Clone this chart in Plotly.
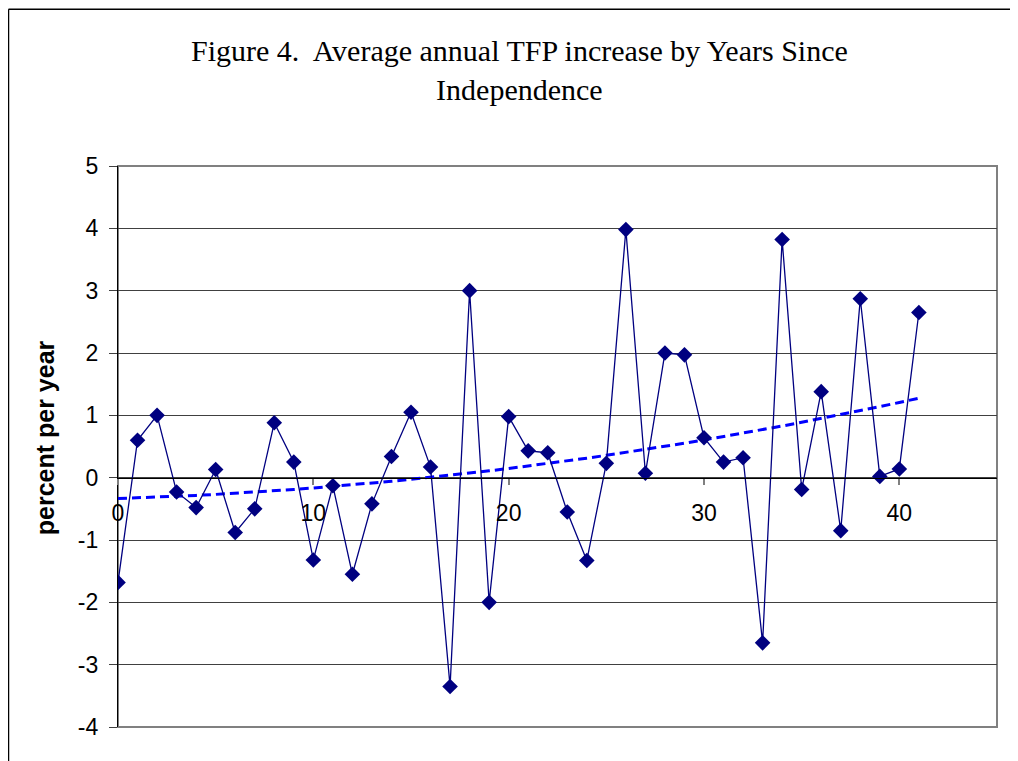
import numpy as np
import plotly.graph_objects as go

years = list(range(42))
tfp = [-1.68, 0.60, 1.00, -0.23, -0.48, 0.13, -0.88, -0.50, 0.88, 0.25,
       -1.32, -0.13, -1.55, -0.42, 0.34, 1.05, 0.17, -3.35, 3.00, -2.00,
       0.98, 0.43, 0.40, -0.55, -1.33, 0.23, 3.98, 0.07, 2.00, 1.97,
       0.64, 0.25, 0.32, -2.65, 3.82, -0.19, 1.38, -0.85, 2.87, 0.02,
       0.14, 2.65]
x_ticks = [0, 10, 20, 30, 40]
y_ticks = [-4, -3, -2, -1, 0, 1, 2, 3, 4, 5]

# 2nd-order polynomial trendline fitted to the series
coef = np.polyfit(years, tfp, 2)
trend = np.polyval(coef, years)

# page has an 8px body margin, so the figure is shifted by 8px
OFF = 8
W, H = 1018 - OFF, 761 - OFF
L, R, T, B = 118 - OFF, 21, 165.5 - OFF, 34
pw, ph = W - L - R, H - T - B

def px(xp):
    return (xp - OFF - L) / pw

def py(yp):
    return 1 - (yp - OFF - T) / ph

fig = go.Figure()
fig.add_trace(go.Scatter(x=years, y=trend, mode="lines",
                         line=dict(color="#0000FF", width=3, dash="9px,5px"),
                         hoverinfo="skip", showlegend=False))
fig.add_trace(go.Scatter(x=years, y=tfp, mode="lines+markers",
                         line=dict(color="#000080", width=1.3),
                         marker=dict(symbol="diamond", size=12, color="#000080"),
                         showlegend=False))

ymin, ymax = -4, 5
fig.update_layout(
    width=W, height=H,
    margin=dict(l=L, r=R, t=T, b=B, pad=0),
    paper_bgcolor="white", plot_bgcolor="white",
    font=dict(family="Liberation Sans, Arial", color="black"),
    xaxis=dict(range=[0, 45], tickvals=x_ticks, ticktext=[str(v) for v in x_ticks],
               ticks="outside", ticklen=6, tickcolor="#808080", tickwidth=1.5,
               ticklabelstandoff=9,
               showgrid=False, zeroline=False, showline=True, linecolor="black",
               linewidth=1.3, anchor="free", position=(0 - ymin) / (ymax - ymin),
               tickfont=dict(size=23, color="black")),
    yaxis=dict(range=[ymin, ymax], tickvals=y_ticks, ticktext=[str(v) for v in y_ticks],
               ticks="outside", ticklen=8, ticklabelstandoff=6,
               tickcolor="#404040", showgrid=True, gridcolor="#404040", gridwidth=1.2,
               zeroline=False, showline=True, linecolor="black", linewidth=1.3,
               tickfont=dict(size=23, color="black")),
    shapes=[
        dict(type="rect", xref="paper", yref="paper", x0=0, x1=1, y0=0, y1=1,
             line=dict(color="#808080", width=2), layer="below"),
        dict(type="line", xref="paper", yref="paper",
             x0=px(8.5), x1=px(8.5), y0=py(8.5), y1=py(770),
             line=dict(color="black", width=1.5)),
        dict(type="line", xref="paper", yref="paper",
             x0=px(8.5), x1=px(1030), y0=py(8.5), y1=py(8.5),
             line=dict(color="black", width=1.5)),
    ],
    annotations=[
        dict(text="Figure 4.  Average annual TFP increase by Years Since<br>Independence",
             xref="paper", yref="paper", x=px(519), y=py(69),
             xanchor="center", yanchor="middle", showarrow=False,
             font=dict(family="Liberation Serif, Times New Roman", size=30, color="black"),
             align="center"),
        dict(text="<b>percent per year</b>", xref="paper", yref="paper",
             x=px(45), y=py(438), xanchor="center", yanchor="middle",
             textangle=-90, showarrow=False,
             font=dict(family="Liberation Sans, Arial", size=25, color="black")),
    ],
)
fig.write_html("out.html")
